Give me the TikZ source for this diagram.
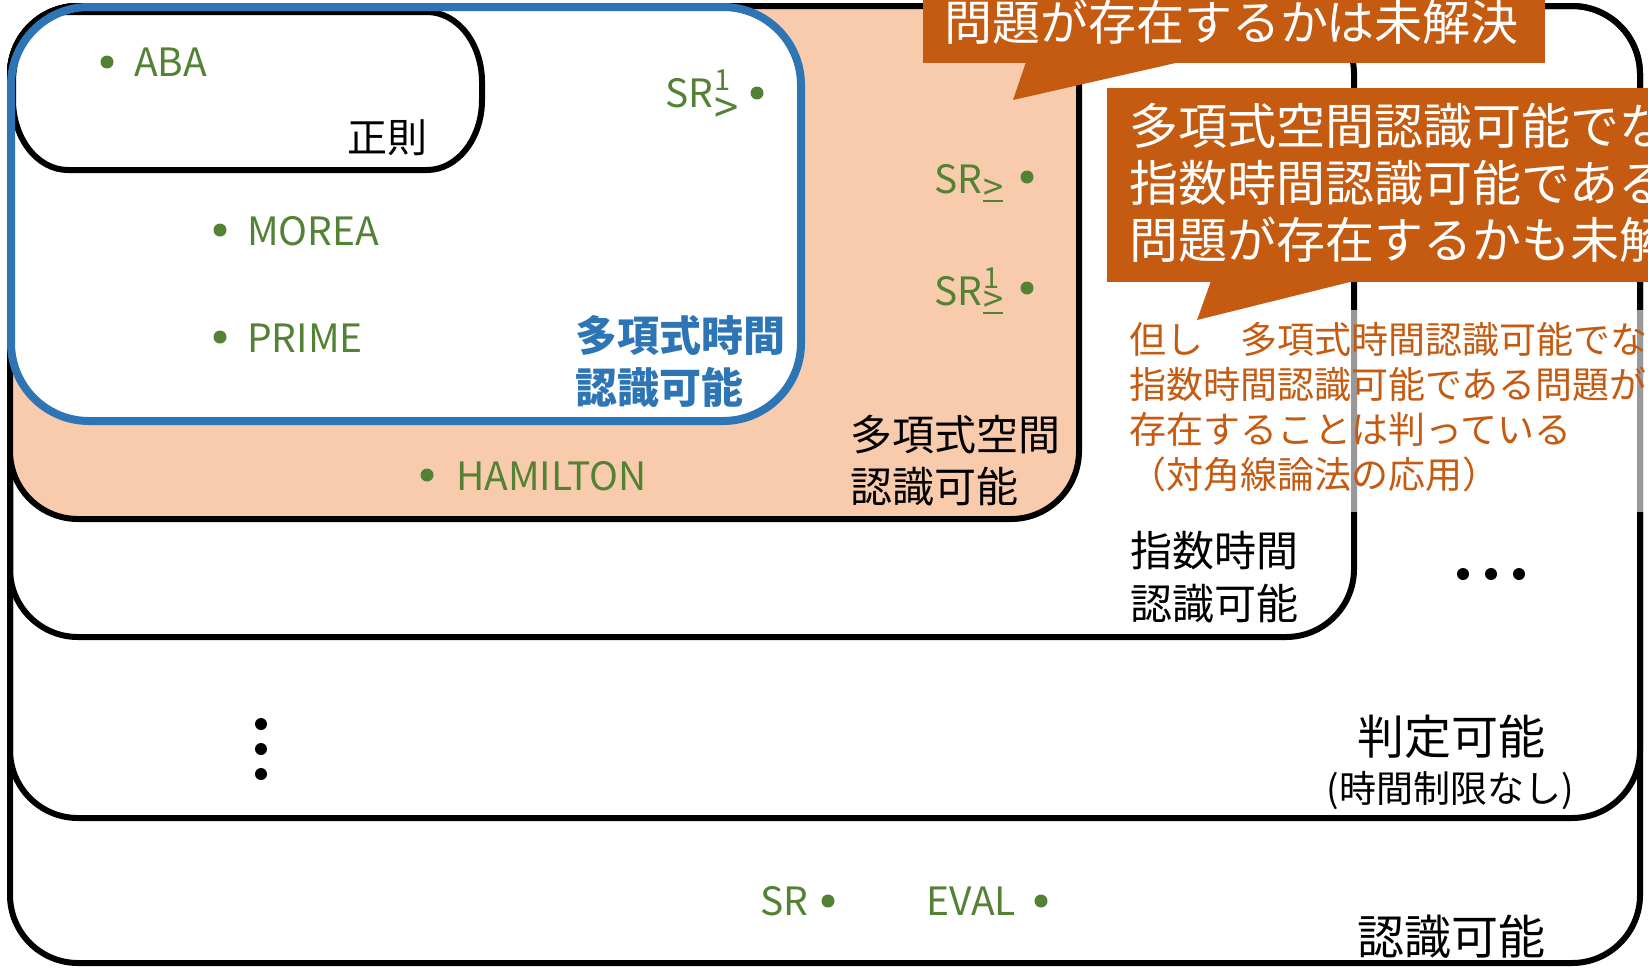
\documentclass[tikz,border=0pt]{standalone}
\usepackage{graphicx}
\usepackage{fontspec}
\setmainfont{Noto Sans CJK JP}
\definecolor{peach}{HTML}{F8CBAD}
\definecolor{rust}{HTML}{C55A11}
\definecolor{bluex}{HTML}{2E75B6}
\definecolor{greenx}{HTML}{548235}
\newcommand{\fs}[1]{\fontsize{#1}{#1}\selectfont}
\newcommand{\SRsc}[3]{SR\kern1pt\makebox[0pt][l]{\raisebox{17pt}{\fs{29}#1}}\raisebox{-#3pt}{\fs{29}#2}}
\newsavebox{\gtbox}
\newcommand{\biggt}{\scalebox{1.5}{>}}
\newcommand{\ugeq}{\sbox{\gtbox}{\scalebox{1.25}{>}}\makebox[0pt][l]{\usebox{\gtbox}}\raisebox{-2pt}{\rule{\wd\gtbox}{2pt}}}
\begin{document}
\begin{tikzpicture}[x=1pt,y=-1pt,
  box/.style={draw=black,line width=6pt,rounded corners=68pt},
  gdot/.style={circle,fill=greenx,inner sep=0pt,minimum size=13pt},
  bdot/.style={circle,fill=black,inner sep=0pt,minimum size=12pt},
  glab/.style={text=greenx,font=\fs{39},inner sep=0pt,anchor=base west},
  lab/.style={text=black,inner sep=0pt},
  ]
\useasboundingbox (0,0) rectangle (1648,967);
\clip (0,0) rectangle (1648,967);
\fill[white] (0,0) rectangle (1648,967);
% nested classes
\draw[box,fill=white] (10,6) rectangle (1640,963);
\draw[box] (10,6) rectangle (1640,818);
\draw[box] (10,6) rectangle (1354,637);
\draw[box,fill=peach] (10,6) rectangle (1079,519);
% polynomial time (blue)
\fill[white,rounded corners=78pt] (11,7) rectangle (801,421);
% regular
\draw[black,line width=6pt,fill=white] (68,12) -- (427,12)
  arc[start angle=-90,end angle=0,x radius=55,y radius=70] -- (482,100)
  arc[start angle=0,end angle=90,x radius=55,y radius=70] -- (68,170)
  arc[start angle=90,end angle=180,x radius=55,y radius=70] -- (13,82)
  arc[start angle=180,end angle=270,x radius=55,y radius=70] -- cycle;
\draw[bluex,line width=8pt,rounded corners=78pt] (11,7) rectangle (801,421);
% translucent text panel
\fill[white,opacity=0.6] (1110,310) rectangle (1648,512);
% callouts
\fill[rust] (923,-5) rectangle (1545,63);
\fill[rust] (1026,62) -- (1013,100) -- (1180,62) -- cycle;
\fill[rust] (1107,88) rectangle (1660,282);
\fill[rust] (1211,281) -- (1197,320) -- (1354,281) -- cycle;
\node[lab,anchor=west,font=\fs{48},text=white] (c1) at (944,22) {問題が存在するかは未解決};
\node[lab,anchor=west,font=\fontsize{49}{57}\selectfont,text=white,align=left] (c2) at (1129,183)
  {多項式空間認識可能でな\\指数時間認識可能である\\問題が存在するかも未解};
\node[lab,anchor=west,font=\fontsize{37}{45}\selectfont,text=rust,align=left] (note) at (1129,407)
  {但し　多項式時間認識可能でな\\指数時間認識可能である問題が\\存在することは判っている\\（対角線論法の応用）};
% class labels
\node[lab,anchor=west,font=\fontsize{42}{52}\selectfont\bfseries,text=bluex,align=left] (ptime) at (575,362) {多項式時間\\認識可能};
\node[lab,anchor=west,font=\fs{40}] (reg) at (347,138) {正則};
\node[lab,anchor=west,font=\fontsize{42}{52}\selectfont,align=left] (pspace) at (850,461) {多項式空間\\認識可能};
\node[lab,anchor=west,font=\fontsize{42}{53}\selectfont,align=left] (exptime) at (1130,577) {指数時間\\認識可能};
\node[lab,font=\fs{47}] (dec) at (1451,737) {判定可能};
\node[lab,font=\fs{37}] (nolim) at (1450,791) {(時間制限なし)};
\node[lab,font=\fs{47}] (recog) at (1451,937) {認識可能};
% problems
\node[gdot] (dABA) at (107,62) {};
\node[glab] (ABA) at (134,76) {ABA};
\node[gdot] (dMOREA) at (220,230) {};
\node[glab] (MOREA) at (247,245) {MOREA};
\node[gdot] (dPRIME) at (220,337) {};
\node[glab] (PRIME) at (247,352) {PRIME};
\node[gdot] (dHAM) at (427,475) {};
\node[glab] (HAM) at (456,490) {HAMILTON};
\node[glab] (SRa) at (665,107) {\SRsc{1}{\biggt}{16}};
\node[gdot] (dSRa) at (757,93) {};
\node[glab] (SRb) at (934,193) {\SRsc{}{\ugeq}{7}};
\node[gdot] (dSRb) at (1027,177) {};
\node[glab] (SRc) at (934,305) {\SRsc{1}{\ugeq}{7}};
\node[gdot] (dSRc) at (1027,288) {};
\node[glab] (SR) at (760,915) {SR};
\node[gdot] (dSR) at (828,901) {};
\node[glab] (EVAL) at (926,915) {EVAL};
\node[gdot] (dEVAL) at (1041,901) {};
% ellipses
\node[bdot] (v1) at (261,724) {};
\node[bdot] (v2) at (261,749) {};
\node[bdot] (v3) at (261,774) {};
\node[bdot] (h1) at (1463,574) {};
\node[bdot] (h2) at (1491,574) {};
\node[bdot] (h3) at (1519,574) {};
\end{tikzpicture}
\end{document}
